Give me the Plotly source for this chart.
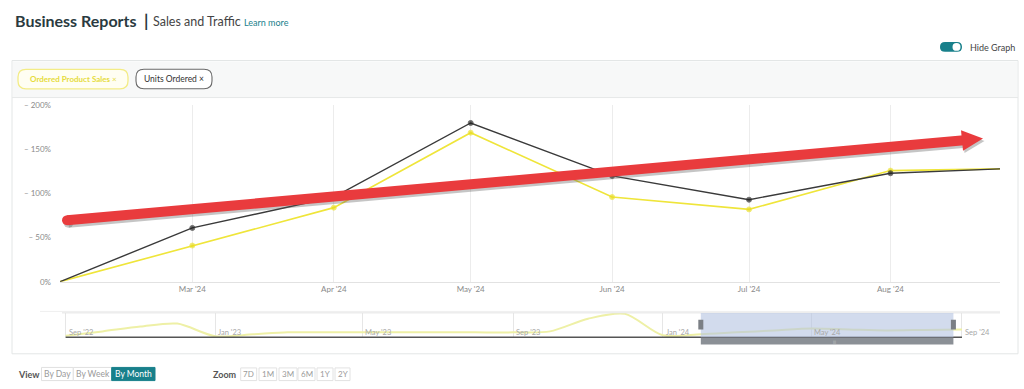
import plotly.graph_objects as go

W, H = 1024, 389

# ---------------- data ----------------
main_dates = ["2024-02-01", "2024-03-01", "2024-04-01", "2024-05-01",
              "2024-06-01", "2024-07-01", "2024-08-01", "2024-08-25"]
units_ordered = [0, 61, 96, 180, 120, 93, 123, 128]
ordered_sales = [0, 41, 84, 169, 96, 82, 126, 128]

main_tick_dates = ["2024-03-01", "2024-04-01", "2024-05-01",
                   "2024-06-01", "2024-07-01", "2024-08-01"]
main_tick_text = ["Mar '24", "Apr '24", "May '24", "Jun '24", "Jul '24", "Aug '24"]
y_tick_vals = [0, 50, 100, 150, 200]
y_tick_text = ["0%", "– 50%", "– 100%", "– 150%", "– 200%"]

nav_dates = ["2022-09-01", "2022-10-01", "2022-11-01", "2022-12-01",
             "2023-01-01", "2023-02-01", "2023-03-01", "2023-04-01",
             "2023-05-01", "2023-06-01", "2023-07-01", "2023-08-01",
             "2023-09-01", "2023-10-01", "2023-11-01", "2023-12-01",
             "2024-01-01", "2024-02-01", "2024-03-01", "2024-04-01",
             "2024-05-01", "2024-06-01", "2024-07-01", "2024-08-01",
             "2024-09-01"]
nav_sales = [2.5, 7, 12, 15, 2, 4, 6, 6, 6, 6, 6, 6, 6, 7, 20, 25,
             3, 4, 6, 8, 10, 9, 8, 8.5, 9]
nav_units = [1, 1, 1, 1, 1, 1, 1, 1, 1, 1, 1, 1, 1, 1, 1, 1,
             1, 1, 1, 1, 1, 1, 1, 1, 1]
nav_tick_dates = ["2022-09-01", "2023-01-01", "2023-05-01", "2023-09-01",
                  "2024-01-01", "2024-05-01", "2024-09-01"]
nav_tick_text = ["Sep '22", "Jan '23", "May '23", "Sep '23", "Jan '24", "May '24", "Sep '24"]

view_buttons = ["By Day", "By Week", "By Month"]
zoom_buttons = ["7D", "1M", "3M", "6M", "1Y", "2Y"]

# ---------------- helpers ----------------
def px(x):
    return x / W

def py(y):
    return 1 - y / H

FONT = "Lato"
YELLOW = "#efe53a"
TEAL = "#18808b"

def rrect_path(x0, y0, x1, y1, r):
    pts = [
        ("M", [(x0 + r, y0)]),
        ("L", [(x1 - r, y0)]),
        ("Q", [(x1, y0), (x1, y0 + r)]),
        ("L", [(x1, y1 - r)]),
        ("Q", [(x1, y1), (x1 - r, y1)]),
        ("L", [(x0 + r, y1)]),
        ("Q", [(x0, y1), (x0, y1 - r)]),
        ("L", [(x0, y0 + r)]),
        ("Q", [(x0, y0), (x0 + r, y0)]),
    ]
    s = ""
    for cmd, ps in pts:
        s += cmd + " " + " ".join(f"{px(a):.5f},{py(b):.5f}" for a, b in ps) + " "
    return s + "Z"

def text(x, y, t, size, color, xanchor="center", bold=False, **kw):
    return dict(x=px(x), y=py(y), xref="paper", yref="paper", xanchor=xanchor,
                yanchor="middle", text=f"<b>{t}</b>" if bold else t, showarrow=False,
                font=dict(size=size, color=color, family=FONT), **kw)

fig = go.Figure()

n = len(main_dates)
msizes = [0] + [5] * (n - 2) + [0]
fig.add_trace(go.Scatter(x=main_dates, y=ordered_sales, mode="lines+markers",
                         line=dict(color=YELLOW, width=1.6),
                         marker=dict(size=msizes, color="#e8dc20"),
                         name="Ordered Product Sales", xaxis="x", yaxis="y"))
fig.add_trace(go.Scatter(x=main_dates, y=units_ordered, mode="lines+markers",
                         line=dict(color="#3a3a3a", width=1.4),
                         marker=dict(size=msizes, color="#222"),
                         name="Units Ordered", xaxis="x", yaxis="y"))

fig.add_trace(go.Scatter(x=nav_dates, y=nav_sales, mode="lines",
                         line=dict(color="#eef0a6", width=2, shape="spline", smoothing=0.8),
                         xaxis="x2", yaxis="y2", hoverinfo="skip"))
fig.add_trace(go.Scatter(x=nav_dates, y=nav_units, mode="lines",
                         line=dict(color="#555", width=1.5),
                         xaxis="x2", yaxis="y2", hoverinfo="skip"))

main_start, main_end = main_dates[0], main_dates[-1]

layout = dict(
    width=W, height=H,
    margin=dict(l=0, r=0, t=0, b=0),
    paper_bgcolor="white", plot_bgcolor="rgba(0,0,0,0)",
    showlegend=False,
    font=dict(family=FONT, color="#555"),
    xaxis=dict(domain=[px(60), px(1000)], type="date", range=[main_start, main_end],
               tickvals=main_tick_dates, ticktext=main_tick_text,
               showgrid=True, gridcolor="#ececec", gridwidth=1,
               showline=True, linecolor="#e2e2e2", ticks="",
               tickfont=dict(size=8, color="#8a8a8a"), zeroline=False,
               anchor="y", fixedrange=True),
    yaxis=dict(domain=[py(284), py(103)], range=[0, 200],
               tickvals=y_tick_vals, ticktext=y_tick_text,
               showgrid=False, zeroline=False, ticks="",
               tickfont=dict(size=8, color="#8a8a8a"),
               ticklabelstandoff=8, anchor="x", fixedrange=True),
    xaxis2=dict(domain=[px(62), px(1000)], type="date",
                range=["2022-08-29", "2024-10-02"],
                tickvals=nav_tick_dates, showticklabels=False,
                showgrid=True, gridcolor="#e6e6e6", ticks="", zeroline=False,
                showline=False, anchor="y2", fixedrange=True),
    yaxis2=dict(domain=[py(342), py(316)], range=[0, 26], visible=False,
                anchor="x2", fixedrange=True),
)

shapes = []
ann = []

# panel
shapes.append(dict(type="rect", xref="paper", yref="paper", x0=px(13), x1=px(1017),
                   y0=py(95), y1=py(58), fillcolor="#f7f8f8", line=dict(width=0), layer="below"))
shapes.append(dict(type="rect", xref="paper", yref="paper", x0=px(12), x1=px(1018),
                   y0=py(358), y1=py(57), line=dict(color="#e3e6e6", width=1), layer="below"))
shapes.append(dict(type="line", xref="paper", yref="paper", x0=px(12), x1=px(1018),
                   y0=py(95), y1=py(95), line=dict(color="#e6e8e8", width=1), layer="below"))

# chips
shapes.append(dict(type="path", path=rrect_path(18, 66, 128, 86, 8), xref="paper", yref="paper",
                   line=dict(color="#f3ec86", width=1.3), fillcolor="#fffef2"))
shapes.append(dict(type="path", path=rrect_path(136, 66, 212, 86, 8), xref="paper", yref="paper",
                   line=dict(color="#6a6a6a", width=1.1), fillcolor="white"))
ann.append(text(73, 76, "<b>Ordered Product Sales</b> ×", 8, "#e6dc3c"))
ann.append(text(174, 76, "Units Ordered ×", 8.5, "#333"))

# title
ann.append(text(13, 16, "Business Reports", 16, "#2a3a40", xanchor="left", bold=True))
ann.append(text(142, 16, "|", 17, "#2a3a40", xanchor="left", bold=True))
ann.append(text(151, 17, "Sales and Traffic", 12.5, "#444", xanchor="left"))
ann.append(text(242, 18, "Learn more", 9, "#1a7f8c", xanchor="left"))

# toggle
shapes.append(dict(type="path", path=rrect_path(940, 38, 962, 48, 5), xref="paper", yref="paper",
                   line=dict(width=0), fillcolor=TEAL))
shapes.append(dict(type="circle", xref="paper", yref="paper", x0=px(952.5), x1=px(960.5),
                   y0=py(47), y1=py(39), fillcolor="white", line=dict(width=0)))
ann.append(text(968, 43.5, "Hide Graph", 9, "#444", xanchor="left"))

# navigator frame
shapes.append(dict(type="line", xref="paper", yref="paper", x0=px(62), x1=px(1000),
                   y0=py(316), y1=py(316), line=dict(color="#e3e3e3", width=1)))
shapes.append(dict(type="line", xref="paper", yref="paper", x0=px(40), x1=px(1000),
                   y0=py(314.5), y1=py(314.5), line=dict(color="#efefef", width=1)))
# selection
shapes.append(dict(type="rect", xref="x2", yref="paper", x0=main_start, x1=main_end,
                   y0=py(341), y1=py(316), fillcolor="rgba(180,195,225,0.6)", line=dict(width=0),
                   layer="above"))
for d in (main_start, main_end):
    shapes.append(dict(type="rect", xref="x2", yref="paper", x0=d, x1=d,
                       y0=py(333), y1=py(323), line=dict(color="#7b7f85", width=5)))
shapes.append(dict(type="rect", xref="x2", yref="paper", x0=main_start, x1=main_end,
                   y0=py(348.5), y1=py(341.5), fillcolor="#8b9096", line=dict(width=0)))
ann.append(dict(x="2024-05-20", y=py(345.5), xref="x2", yref="paper", xanchor="center",
                yanchor="middle", text="|||", showarrow=False,
                font=dict(size=4, color="#d0d0d0", family=FONT)))
for d, t in zip(nav_tick_dates, nav_tick_text):
    ann.append(dict(x=d, y=py(336.5), xref="x2", yref="paper", xanchor="left", yanchor="middle",
                    xshift=1, text=t, showarrow=False, font=dict(size=7.5, color="#a8a8a8", family=FONT)))

# bottom controls
ann.append(text(16, 379, "View", 9, "#555", xanchor="left", bold=True))
view_x = [(41.5, 73.3), (73.3, 111.7), (111.7, 155)]
for (a, b), t in zip(view_x, view_buttons):
    sel = t == "By Month"
    shapes.append(dict(type="rect", xref="paper", yref="paper", x0=px(a), x1=px(b),
                       y0=py(385.5), y1=py(372), fillcolor=TEAL if sel else "white",
                       line=dict(color=TEAL if sel else "#e0e0e0", width=1)))
    ann.append(text((a + b) / 2, 379, t, 8.5, "white" if sel else "#9a9a9a"))
ann.append(text(211, 379, "Zoom", 9, "#555", xanchor="left", bold=True))
zoom_x = [(240.7, 256.7), (259, 276.7), (279, 297), (298, 315), (317, 333), (335, 350)]
for (a, b), t in zip(zoom_x, zoom_buttons):
    shapes.append(dict(type="rect", xref="paper", yref="paper", x0=px(a), x1=px(b),
                       y0=py(385.5), y1=py(372.5), fillcolor="white",
                       line=dict(color="#e2e2e2", width=1)))
    ann.append(text((a + b) / 2, 379, t, 8, "#9a9a9a"))

# red arrow overlay (annotation drawing on the screenshot)
def arrow_shapes(dx, dy, color):
    sx, sy = 67 + dx, 221 + dy
    tipx, tipy = 983 + dx, 137 + dy
    bx, by = 962 + dx, 139 + dy
    out = []
    out.append(dict(type="line", xref="paper", yref="paper", x0=px(sx), y0=py(sy),
                    x1=px(bx + 2), y1=py(by - 0.2), line=dict(color=color, width=10), layer="above"))
    out.append(dict(type="circle", xref="paper", yref="paper", x0=px(sx - 5), x1=px(sx + 5),
                    y0=py(sy + 5), y1=py(sy - 5), fillcolor=color, line=dict(width=0), layer="above"))
    path = (f"M {px(tipx):.5f},{py(tipy):.5f} L {px(bx + 1):.5f},{py(by + 10.5):.5f} "
            f"L {px(bx - 1):.5f},{py(by - 10.5):.5f} Z")
    out.append(dict(type="path", xref="paper", yref="paper", path=path, fillcolor=color,
                    line=dict(width=0), layer="above"))
    return out

shapes += arrow_shapes(1.5, 2.5, "rgba(90,90,90,0.35)")
shapes += arrow_shapes(0, 0, "#e93b3d")

layout["shapes"] = shapes
layout["annotations"] = ann
fig.update_layout(**layout)

fig.write_html("out.html", config={"displayModeBar": False},
               post_script="document.body.style.margin='0';document.body.style.overflow='hidden';")
